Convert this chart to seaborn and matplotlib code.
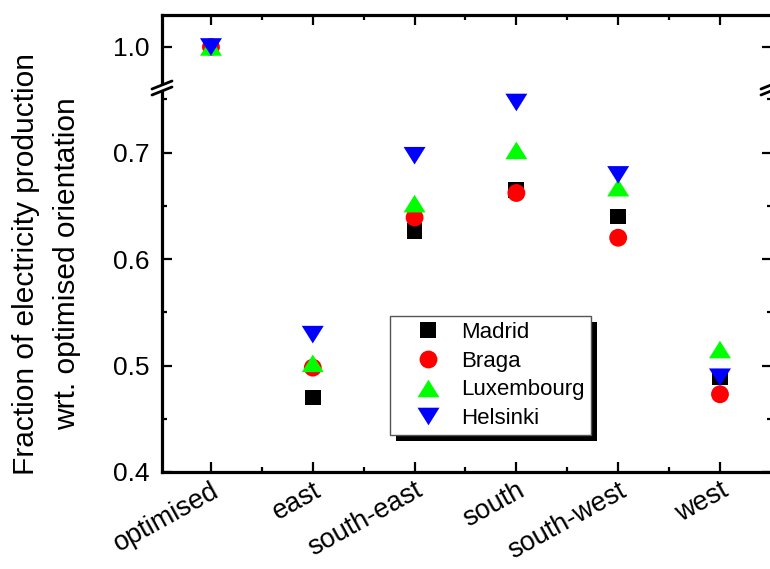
import numpy as np
import pandas as pd
import matplotlib
matplotlib.use("Agg")
import matplotlib.pyplot as plt
import seaborn as sns
from matplotlib.ticker import FixedLocator, FormatStrFormatter
from matplotlib.patches import Rectangle, Polygon
from matplotlib.lines import Line2D
from matplotlib.transforms import IdentityTransform

# ---------------- data ----------------
categories = ["optimised", "east", "south-east", "south", "south-west", "west"]
cities = ["Madrid", "Braga", "Luxembourg", "Helsinki"]
madrid = [1.0, 0.470, 0.626, 0.665, 0.640, 0.489]
braga = [1.0, 0.498, 0.639, 0.662, 0.620, 0.473]
luxembourg = [1.0, 0.502, 0.652, 0.702, 0.667, 0.515]
helsinki = [1.0, 0.529, 0.697, 0.747, 0.679, 0.489]
city_colors = ["#000000", "#ff0000", "#00ff00", "#0000ff"]
lower_yticks = [0.4, 0.5, 0.6, 0.7]
lower_minor = [0.45, 0.55, 0.65, 0.75]
upper_yticks = [1.0]

series = {"Madrid": madrid, "Braga": braga, "Luxembourg": luxembourg, "Helsinki": helsinki}
rows = []
for c in cities:
    for i, cat in enumerate(categories):
        rows.append({"city": c, "category": cat, "pos": i, "value": series[c][i]})
df = pd.DataFrame(rows)

sns.set_style("ticks")
plt.rcParams["font.family"] = ["Liberation Sans", "DejaVu Sans"]
for k in ["text.color", "axes.labelcolor", "xtick.color", "ytick.color", "axes.edgecolor"]:
    plt.rcParams[k] = "black"

W, H = 770, 569
fig = plt.figure(figsize=(W / 100, H / 100), dpi=100)
L = 162 / W
R = 772 / W
B = 1 - 472 / H
T = 1 - 15 / H
BRK = 1 - 88 / H
ax_lo = fig.add_axes([L, B, R - L, BRK - B])
ax_hi = fig.add_axes([L, BRK, R - L, T - BRK])

palette = dict(zip(cities, city_colors))
markers = {
    "Madrid": "s",
    "Braga": "o",
    "Luxembourg": [(-1, -0.8), (1, -0.8), (0, 0.8)],
    "Helsinki": [(-1, 0.8), (1, 0.8), (0, -0.8)],
}
sizes = {"Madrid": 130, "Braga": 165, "Luxembourg": 250, "Helsinki": 250}

for ax in (ax_lo, ax_hi):
    sns.scatterplot(
        data=df, x="pos", y="value", hue="city", style="city", size="city",
        hue_order=cities, style_order=cities, size_order=cities,
        palette=palette, markers=markers, sizes=sizes, linewidth=0,
        ax=ax, legend=(ax is ax_lo), zorder=3,
    )
    ax.set_xlim(-0.481, 5.511)
    ax.set_xlabel("")
    ax.set_ylabel("")
    for s in ax.spines.values():
        s.set_linewidth(2.3)
    ax.xaxis.set_major_locator(FixedLocator(range(len(categories))))
    ax.xaxis.set_minor_locator(FixedLocator([0.5, 1.5, 2.5, 3.5, 4.5]))
    ax.tick_params(which="both", direction="in", width=1.6, left=True, right=True,
                   labelsize=19, pad=9)
    ax.tick_params(which="major", length=7)
    ax.tick_params(which="minor", length=3.5)

ax_lo.set_ylim(0.4, 0.7606)
ax_lo.yaxis.set_major_locator(FixedLocator(lower_yticks))
ax_lo.yaxis.set_minor_locator(FixedLocator(lower_minor))
ax_lo.yaxis.set_major_formatter(FormatStrFormatter("%.1f"))
ax_lo.spines["top"].set_visible(False)
ax_lo.tick_params(which="both", top=False, bottom=True)
ax_lo.tick_params(axis="x", pad=4)
ax_lo.set_xticks(range(len(categories)))
ax_lo.set_xticklabels(categories, rotation=29, ha="right", va="top",
                      rotation_mode="anchor", fontsize=19.5)

ax_hi.set_ylim(0.9615, 1.030)
ax_hi.yaxis.set_major_locator(FixedLocator(upper_yticks))
ax_hi.yaxis.set_minor_locator(FixedLocator([]))
ax_hi.yaxis.set_major_formatter(FormatStrFormatter("%.1f"))
ax_hi.spines["bottom"].set_visible(False)
ax_hi.tick_params(which="both", top=True, bottom=False, labelbottom=False)

# legend
handles, labels = ax_lo.get_legend_handles_labels()
leg = ax_lo.legend(
    handles, labels, loc="upper left",
    bbox_to_anchor=(390 / W, 1 - 316 / H), bbox_transform=fig.transFigure,
    borderaxespad=0, fontsize=16, frameon=True, fancybox=False,
    edgecolor="#555555", framealpha=1, handletextpad=0.07, labelspacing=0.34,
    borderpad=0.28, handlelength=2.86,
)
leg.get_frame().set_linewidth(1.0)
leg.set_zorder(10)

# y label
fig.text(46.5 / W, 1 - 264 / H,
         "Fraction of electricity production\nwrt. optimised orientation",
         rotation=90, ha="center", va="center", multialignment="center",
         fontsize=21.5, linespacing=1.62)

# axis break marks
def brk(xc, yc):
    tr = fig.transFigure
    def P(x, y):
        return ((xc + x) / W, 1 - (yc + y) / H)
    poly = Polygon([P(-10, 4), P(10, -4), P(10, -10), P(-10, -2)], closed=True,
                   facecolor="white", edgecolor="none", transform=tr, zorder=20)
    fig.add_artist(poly)
    for dy in (0, -6):
        fig.add_artist(Line2D([P(-10, 4 + dy)[0], P(10, -4 + dy)[0]],
                              [P(-10, 4 + dy)[1], P(10, -4 + dy)[1]],
                              color="black", lw=2.0, transform=tr, zorder=21))

brk(162, 91)
brk(771, 91)

# legend shadow
fig.canvas.draw()
bb = leg.get_window_extent()
off = 6
shadow = Rectangle((bb.x0 + off, bb.y0 - off), bb.width, bb.height,
                   transform=IdentityTransform(), facecolor="black",
                   edgecolor="none", zorder=9)
shadow.set_clip_on(False)
ax_lo.add_artist(shadow)

fig.savefig("out.png", dpi=100)
